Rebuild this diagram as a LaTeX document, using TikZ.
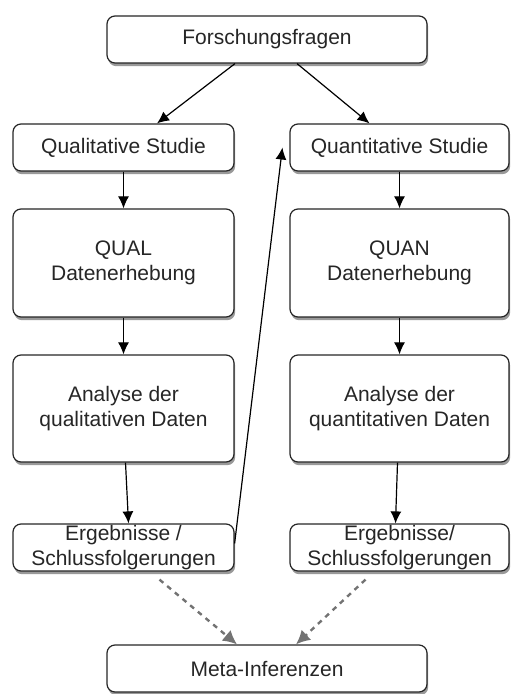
\documentclass[tikz,border=0pt]{standalone}
\usepackage{fontspec}
\setmainfont{Liberation Sans}
\usetikzlibrary{arrows.meta,shadows}
\begin{document}
\begin{tikzpicture}[x=0.5pt,y=-0.5pt,
  box/.style={draw=black!85, line width=0.6pt, rounded corners=4pt, fill=white,
    align=center, inner sep=2pt, text=black!85, font=\fontsize{10.5}{12.5}\selectfont,
    drop shadow={shadow xshift=0.6pt, shadow yshift=-1.6pt, fill=black, opacity=0.4}},
  smallbox/.style={box, minimum height=23.5pt},
  bigbox/.style={box, minimum height=54pt},
  arr/.style={-{Latex[length=6pt,width=5.5pt]}, line width=0.6pt},
  dasharr/.style={-{Latex[length=7pt,width=7pt]}, line width=1.2pt, draw=black!55, dash pattern=on 2.5pt off 2.5pt}]
\useasboundingbox (0,0) rectangle (510,694);
\node[smallbox, minimum width=160pt] (F) at (267,39.5) {Forschungsfragen};
\node[smallbox, minimum width=110.5pt] (QS) at (123.5,147.5) {Qualitative Studie};
\node[smallbox, minimum width=109.5pt] (NS) at (399.5,147.5) {Quantitative Studie};
\node[bigbox, minimum width=110.5pt] (QD) at (123.5,263) {QUAL\\Datenerhebung};
\node[bigbox, minimum width=109.5pt] (ND) at (399.5,263) {QUAN\\Datenerhebung};
\node[bigbox, minimum width=110.5pt, minimum height=53.5pt] (QA) at (123.5,408.5) {Analyse der\\qualitativen Daten};
\node[bigbox, minimum width=109.5pt, minimum height=53.5pt] (NA) at (399.5,408.5) {Analyse der\\quantitativen Daten};
\node[smallbox, minimum width=110.5pt, inner sep=0pt] (QE) at (123.5,547.5) {Ergebnisse /\\Schlussfolgerungen};
\node[smallbox, minimum width=109.5pt, inner sep=0pt] (NE) at (399.5,547.5) {Ergebnisse/\\Schlussfolgerungen};
\node[smallbox, minimum width=160pt] (M) at (267,668.5) {Meta-Inferenzen};
\draw[arr] ([xshift=-16pt]F.south) -- ([xshift=16.75pt]QS.north);
\draw[arr] ([xshift=15pt]F.south) -- ([xshift=-15pt]NS.north);
\draw[arr] (QS.south) -- (QD.north);
\draw[arr] (NS.south) -- (ND.north);
\draw[arr] (QD.south) -- (QA.north);
\draw[arr] (ND.south) -- (NA.north);
\draw[arr] ([xshift=1pt]QA.south) -- ([xshift=2.5pt]QE.north);
\draw[arr] ([xshift=-1pt]NA.south) -- ([xshift=-2pt]NE.north);
\draw[arr] ([yshift=2pt]QE.east) -- ([xshift=-3.5pt]NS.west);
\draw[dasharr] ([xshift=18pt,yshift=-4pt]QE.south) -- ([xshift=-15pt]M.north);
\draw[dasharr] ([xshift=-17pt,yshift=-4pt]NE.south) -- ([xshift=14.5pt]M.north);
\end{tikzpicture}
\end{document}
